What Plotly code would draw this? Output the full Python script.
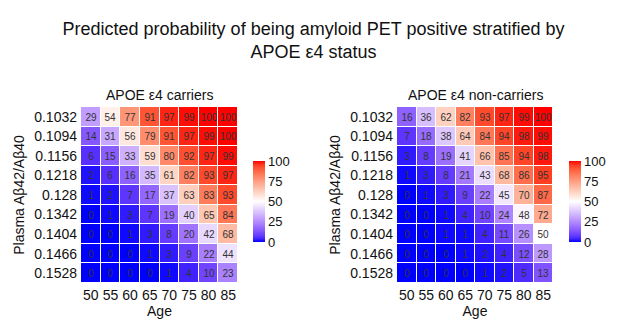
import numpy as np
import plotly.graph_objects as go

ages = ["50", "55", "60", "65", "70", "75", "80", "85"]
ratios = ["0.1032", "0.1094", "0.1156", "0.1218", "0.128", "0.1342", "0.1404", "0.1466", "0.1528"]

carriers = [
    [29, 54, 77, 91, 97, 99, 100, 100],
    [14, 31, 56, 79, 91, 97, 99, 100],
    [6, 15, 33, 59, 80, 92, 97, 99],
    [2, 6, 16, 35, 61, 82, 93, 97],
    [1, 2, 7, 17, 37, 63, 83, 93],
    [0, 1, 3, 7, 19, 40, 65, 84],
    [0, 0, 1, 3, 8, 20, 42, 68],
    [0, 0, 0, 1, 3, 9, 22, 44],
    [0, 0, 0, 0, 1, 4, 10, 23],
]
noncarriers = [
    [16, 36, 62, 82, 93, 97, 99, 100],
    [7, 18, 38, 64, 84, 94, 98, 99],
    [3, 8, 19, 41, 66, 85, 94, 98],
    [1, 3, 8, 21, 43, 68, 86, 95],
    [0, 1, 3, 9, 22, 45, 70, 87],
    [0, 0, 1, 4, 10, 24, 48, 72],
    [0, 0, 1, 1, 4, 11, 26, 50],
    [0, 0, 0, 1, 2, 4, 12, 28],
    [0, 0, 0, 0, 1, 2, 5, 13],
]
cbar_ticks = [0, 25, 50, 75, 100]

# ---- Lab-interpolated blue-white-red scale (like ggplot gradient2) ----
def srgb_to_lab(rgb):
    c = np.array(rgb) / 255.0
    c = np.where(c > 0.04045, ((c + 0.055) / 1.055) ** 2.4, c / 12.92)
    M = np.array([[0.4124, 0.3576, 0.1805], [0.2126, 0.7152, 0.0722], [0.0193, 0.1192, 0.9505]])
    xyz = M @ c
    xyz = xyz / np.array([0.95047, 1.0, 1.08883])
    f = np.where(xyz > 0.008856, np.cbrt(xyz), 7.787 * xyz + 16 / 116)
    return np.array([116 * f[1] - 16, 500 * (f[0] - f[1]), 200 * (f[1] - f[2])])

def lab_to_srgb(lab):
    L, a, b = lab
    fy = (L + 16) / 116
    fx = fy + a / 500
    fz = fy - b / 200
    f = np.array([fx, fy, fz])
    xyz = np.where(f ** 3 > 0.008856, f ** 3, (f - 16 / 116) / 7.787)
    xyz = xyz * np.array([0.95047, 1.0, 1.08883])
    Minv = np.array([[3.2406, -1.5372, -0.4986], [-0.9689, 1.8758, 0.0415], [0.0557, -0.2040, 1.0570]])
    c = Minv @ xyz
    c = np.clip(c, 0, 1)
    c = np.where(c > 0.0031308, 1.055 * c ** (1 / 2.4) - 0.055, 12.92 * c)
    return tuple(int(round(v * 255)) for v in c)

lo, mid, hi = srgb_to_lab((0, 0, 255)), srgb_to_lab((255, 255, 255)), srgb_to_lab((255, 0, 0))
cscale = []
for t in np.linspace(0, 1, 21):
    if t <= 0.5:
        lab = lo + (mid - lo) * (t / 0.5)
    else:
        lab = mid + (hi - mid) * ((t - 0.5) / 0.5)
    r, g, b = lab_to_srgb(lab)
    cscale.append([float(t), f"rgb({r},{g},{b})"])

W, H = 627, 324
font = "Arial, Liberation Sans, sans-serif"

def px_x(p):
    return p / W

def px_y(p):
    return 1 - p / H

fig = go.Figure()

panels = [
    (carriers, "x", "y", 81, 238, 253, "APOE ε4 carriers"),
    (noncarriers, "x2", "y2", 397, 553, 569, "APOE ε4 non-carriers"),
]
for z, xa, ya, x0, x1, cbx, sub in panels:
    fig.add_trace(go.Heatmap(
        z=z, x=ages, y=ratios, xaxis=xa, yaxis=ya,
        zmin=0, zmax=100, colorscale=cscale,
        text=z, texttemplate="%{text}",
        textfont=dict(size=10, color="#333333", family=font),
        xgap=1, ygap=1,
        hoverinfo="skip",
        colorbar=dict(
            x=px_x(cbx), xanchor="left", xref="paper", xpad=0, ypad=0,
            y=px_y(201.5), yanchor="middle",
            thickness=12, thicknessmode="pixels",
            len=81, lenmode="pixels",
            tickvals=cbar_ticks, ticktext=[str(t) for t in cbar_ticks],
            ticks="", outlinewidth=0,
            tickfont=dict(size=13, color="#111111", family=font),
        ),
    ))
    fig.add_annotation(
        text=sub, x=px_x((x0 + x1) / 2), y=px_y(95), xref="paper", yref="paper",
        showarrow=False, xanchor="center", yanchor="middle",
        font=dict(size=14, color="#111111", family=font),
    )

ydom = [px_y(283), px_y(107)]
axis_font = dict(size=14, color="#111111", family=font)
common_x = dict(showgrid=False, zeroline=False, showline=False, ticks="",
                tickfont=axis_font, title=dict(text="Age", font=axis_font, standoff=2),
                type="category", ticklabelstandoff=2)
common_y = dict(showgrid=False, zeroline=False, showline=False, ticks="",
                tickfont=axis_font, autorange="reversed", type="category",
                title=dict(text="Plasma Aβ42/Aβ40", font=axis_font, standoff=6),
                ticklabelstandoff=3)

fig.update_layout(
    width=W, height=H,
    margin=dict(l=0, r=0, t=0, b=0),
    paper_bgcolor="white", plot_bgcolor="white",
    title=dict(
        text="Predicted probability of being amyloid PET positive stratified by<br>APOE ε4 status",
        x=0.5, xanchor="center", y=px_y(35), yanchor="middle", yref="paper",
        font=dict(size=18, color="#111111", family=font),
    ),
    xaxis=dict(domain=[px_x(81), px_x(238)], anchor="y", **common_x),
    yaxis=dict(domain=ydom, anchor="x", **common_y),
    xaxis2=dict(domain=[px_x(397), px_x(553)], anchor="y2", **common_x),
    yaxis2=dict(domain=ydom, anchor="x2", **common_y),
    showlegend=False,
)

fig.write_html("out.html")
